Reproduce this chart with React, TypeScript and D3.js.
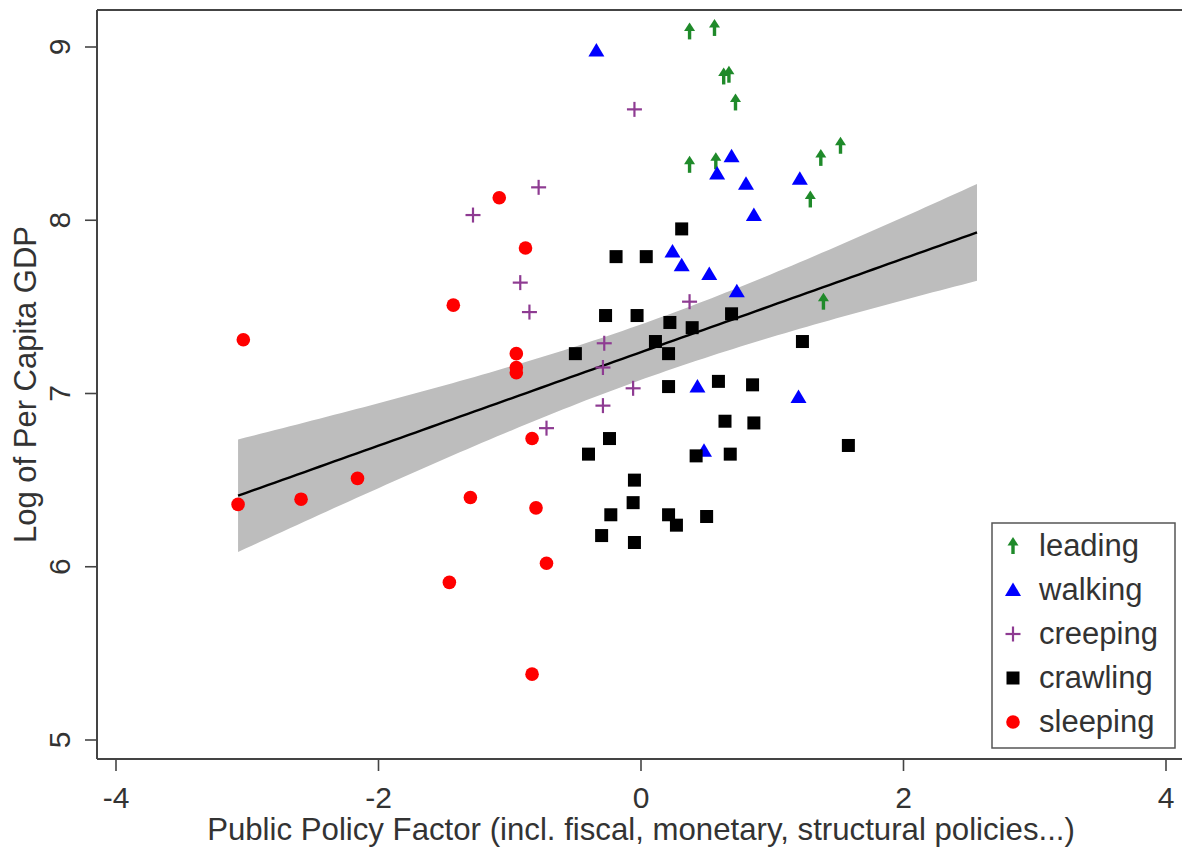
import React from "react";
import * as d3 from "d3";

const xTicks = [-4, -2, 0, 2, 4];
const yTicks = [5, 6, 7, 8, 9];

const groups = ["leading", "walking", "creeping", "crawling", "sleeping"];

const leading: [number, number][] = [
  [0.37, 9.09], [0.56, 9.11], [0.63, 8.83], [0.67, 8.84], [0.72, 8.68],
  [0.37, 8.32], [0.57, 8.34], [1.37, 8.36], [1.52, 8.43], [1.29, 8.12], [1.39, 7.53],
];
const walking: [number, number][] = [
  [-0.34, 8.98], [0.69, 8.37], [0.58, 8.27], [0.80, 8.21], [1.21, 8.24], [0.86, 8.03],
  [0.24, 7.82], [0.31, 7.74], [0.52, 7.69], [0.73, 7.59], [0.43, 7.04], [1.20, 6.98], [0.48, 6.67],
];
const creeping: [number, number][] = [
  [-0.05, 8.64], [-0.78, 8.19], [-1.28, 8.03], [-0.92, 7.64], [-0.85, 7.47], [0.37, 7.53],
  [-0.28, 7.29], [-0.29, 7.15], [-0.06, 7.03], [-0.29, 6.93], [-0.72, 6.80],
];
const crawling: [number, number][] = [
  [0.31, 7.95], [-0.19, 7.79], [0.04, 7.79], [-0.27, 7.45], [-0.03, 7.45], [0.22, 7.41],
  [0.39, 7.38], [0.69, 7.46], [0.11, 7.30], [-0.50, 7.23], [0.21, 7.23], [1.23, 7.30],
  [0.21, 7.04], [0.59, 7.07], [0.85, 7.05], [0.64, 6.84], [0.86, 6.83], [1.58, 6.70],
  [-0.24, 6.74], [-0.40, 6.65], [0.42, 6.64], [0.68, 6.65], [-0.05, 6.50], [-0.06, 6.37],
  [-0.23, 6.30], [0.21, 6.30], [0.27, 6.24], [0.50, 6.29], [-0.30, 6.18], [-0.05, 6.14],
];
const sleeping: [number, number][] = [
  [-1.08, 8.13], [-0.88, 7.84], [-1.43, 7.51], [-3.03, 7.31], [-0.95, 7.23], [-0.95, 7.15],
  [-0.95, 7.12], [-0.83, 6.74], [-3.07, 6.36], [-2.59, 6.39], [-2.16, 6.51], [-1.30, 6.40],
  [-0.80, 6.34], [-0.72, 6.02], [-1.46, 5.91], [-0.83, 5.38],
];

// fitted line: x range and fitted values at its ends
const fitX = [-3.07, 2.56];
const fitY = [6.41, 7.93];
// 95% CI band (read): centre of the band's waist, half-width at waist and at left end
const ciCenterX = 0.04;
const ciHalfWidth = [0.16, 0.325];

const seriesData: Record<string, [number, number][]> = { leading, walking, creeping, crawling, sleeping };
const colors: Record<string, string> = {
  leading: "#1f8a2a",
  walking: "#0000ff",
  creeping: "#8e3b92",
  crawling: "#000000",
  sleeping: "#ff0000",
};

const W = 1182, H = 850;
const L = 97, R = 1180, T = 10, B = 759;
const FONT = "'Liberation Sans', Arial, sans-serif";

function Marker({ g, cx, cy }: { g: string; cx: number; cy: number }) {
  const c = colors[g];
  if (g === "leading") {
    return (
      <g transform={`translate(${cx},${cy})`} fill={c}>
        <path d="M0,-9 L5.5,-0.5 L-5.5,-0.5 Z" />
        <rect x={-1.7} y={-2} width={3.4} height={10} />
      </g>
    );
  }
  if (g === "walking") {
    return <path transform={`translate(${cx},${cy})`} d="M0,-7.5 L8,6 L-8,6 Z" fill={c} />;
  }
  if (g === "creeping") {
    return (
      <g transform={`translate(${cx},${cy})`} stroke={c} strokeWidth={2.2}>
        <line x1={-7.5} x2={7.5} y1={0} y2={0} />
        <line x1={0} x2={0} y1={-7.5} y2={7.5} />
      </g>
    );
  }
  if (g === "crawling") {
    return <rect x={cx - 6.5} y={cy - 6.5} width={13} height={13} fill={c} />;
  }
  return <circle cx={cx} cy={cy} r={6.8} fill={c} />;
}

export default function App() {
  const x = d3.scaleLinear().domain([-4, 4]).range([116, 1166]);
  const y = d3.scaleLinear().domain([5, 9]).range([740, 47]);

  const fit = d3.scaleLinear().domain(fitX).range(fitY);
  const A = ciHalfWidth[0] ** 2;
  const Bc = (ciHalfWidth[1] ** 2 - A) / (fitX[0] - ciCenterX) ** 2;
  const grid = d3.range(0, 101).map((i) => fitX[0] + (i / 100) * (fitX[1] - fitX[0]));
  const band = grid.map((gx) => {
    const yh = fit(gx);
    const hw = Math.sqrt(A + Bc * (gx - ciCenterX) ** 2);
    return { gx, lo: yh - hw, hi: yh + hw, yh };
  });
  const area = d3
    .area<{ gx: number; lo: number; hi: number }>()
    .x((d) => x(d.gx))
    .y0((d) => y(d.lo))
    .y1((d) => y(d.hi));
  const line = d3
    .line<{ gx: number; yh: number }>()
    .x((d) => x(d.gx))
    .y((d) => y(d.yh));

  const legendY0 = 556;
  const legendStep = 44;

  return (
    <div style={{ position: "absolute", left: 0, top: 0 }}>
      <svg width={W} height={H} style={{ display: "block", background: "#fff" }}>
        <rect x={0} y={0} width={W} height={H} fill="#fff" />
        <path d={area(band) || ""} fill="#bdbdbd" />
        <path d={line(band) || ""} fill="none" stroke="#000" strokeWidth={2.4} />
        {groups.map((g) =>
          seriesData[g].map((d, i) => <Marker key={g + i} g={g} cx={x(d[0])} cy={y(d[1])} />)
        )}
        {/* frame */}
        <line x1={L} x2={R + 2} y1={T} y2={T} stroke="#444" strokeWidth={2} />
        <line x1={L} x2={L} y1={T} y2={B} stroke="#444" strokeWidth={2} />
        <line x1={L} x2={R + 2} y1={B} y2={B} stroke="#444" strokeWidth={2} />
        {/* y axis */}
        {yTicks.map((t) => (
          <g key={"y" + t}>
            <line x1={L - 12} x2={L} y1={y(t)} y2={y(t)} stroke="#444" strokeWidth={1.6} />
            <text
              transform={`translate(70,${y(t)}) rotate(-90)`}
              textAnchor="middle"
              fontFamily={FONT}
              fontSize={30}
              fill="#333"
            >
              {t}
            </text>
          </g>
        ))}
        <text
          transform={`translate(36,${(T + B) / 2}) rotate(-90)`}
          textAnchor="middle"
          fontFamily={FONT}
          fontSize={31}
          fill="#333"
        >
          Log of Per Capita GDP
        </text>
        {/* x axis */}
        {xTicks.map((t) => (
          <g key={"x" + t}>
            <line x1={x(t)} x2={x(t)} y1={B} y2={B + 12} stroke="#444" strokeWidth={1.6} />
            <text x={x(t)} y={808} textAnchor="middle" fontFamily={FONT} fontSize={30} fill="#333">
              {t}
            </text>
          </g>
        ))}
        <text x={641} y={840} textAnchor="middle" fontFamily={FONT} fontSize={31.2} fill="#333">
          Public Policy Factor (incl. fiscal, monetary, structural policies...)
        </text>
        {/* legend */}
        <rect x={992} y={523} width={183} height={225} fill="#fff" stroke="#555" strokeWidth={1.5} />
        {groups.map((g, i) => (
          <g key={"lg" + g}>
            <Marker g={g} cx={1013} cy={legendY0 + i * legendStep - 10} />
            <text x={1039} y={legendY0 + i * legendStep} fontFamily={FONT} fontSize={31} fill="#333">
              {g}
            </text>
          </g>
        ))}
      </svg>
    </div>
  );
}
